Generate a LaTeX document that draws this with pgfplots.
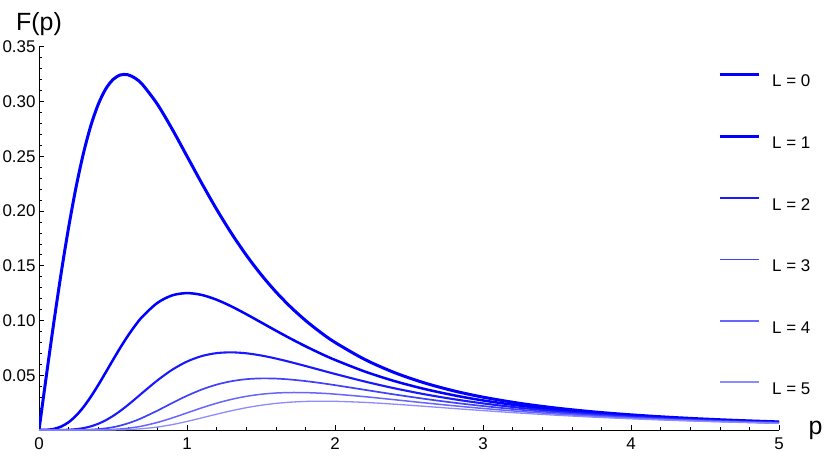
\documentclass[border=0pt]{standalone}
\usepackage{pgfplots}
\pgfplotsset{compat=1.18}
\usepackage{fontspec}
\setmainfont{Liberation Sans}
\definecolor{c0}{rgb}{0,0,1}
\definecolor{c1}{rgb}{0,0,1}
\definecolor{c2}{rgb}{0.1,0.1,1}
\definecolor{c3}{rgb}{0.25,0.25,1}
\definecolor{c4}{rgb}{0.4,0.4,1}
\definecolor{c5}{rgb}{0.55,0.55,1}
\pgfplotstableread{
p L0 L1 L2 L3 L4 L5
0 0 0 0 0 0 0
0.05 0.049751 0.000124 0.0000003 0 0 0
0.1 0.098030 0.000971 0.0000096 0.0000001 0 0
0.15 0.143472 0.003157 0.0000695 0.0000015 0 0
0.2 0.184911 0.007112 0.0002735 0.0000105 0.0000004 0
0.25 0.221453 0.013027 0.000766 0.0000451 0.0000027 0.0000002
0.3 0.252504 0.020849 0.0017215 0.0001421 0.0000117 0.000001
0.35 0.277776 0.030314 0.003308 0.000361 0.0000394 0.0000043
0.4 0.297265 0.041002 0.005655 0.000780 0.0001076 0.0000148
0.45 0.311202 0.052406 0.008825 0.001486 0.000250 0.0000421
0.5 0.32 0.064 0.0128 0.00256 0.000512 0.0001024
0.55 0.324196 0.075293 0.017487 0.004061 0.000943 0.000219
0.6 0.324394 0.085869 0.022730 0.006017 0.001593 0.000422
0.65 0.321222 0.095407 0.028337 0.008416 0.002500 0.000742
0.7 0.315301 0.103691 0.034100 0.011214 0.003688 0.001213
0.8 0.297442 0.116075 0.045298 0.017677 0.006898 0.002692
0.9 0.274717 0.122940 0.055017 0.024621 0.011018 0.004931
1.0 0.25 0.125 0.0625 0.03125 0.015625 0.0078125
1.1 0.225221 0.123311 0.067514 0.036965 0.020239 0.011081
1.2 0.201559 0.118953 0.070202 0.041431 0.024451 0.014430
1.3 0.179655 0.112869 0.070910 0.044549 0.027988 0.017584
1.4 0.159788 0.105806 0.070061 0.046392 0.030719 0.020341
1.5 0.142012 0.098316 0.068065 0.047122 0.032623 0.022585
1.6 0.126247 0.090784 0.065283 0.046945 0.033758 0.024276
1.7 0.112344 0.083464 0.062008 0.046068 0.034225 0.025427
1.8 0.100124 0.076510 0.058465 0.044676 0.034139 0.026087
1.9 0.089403 0.070010 0.054824 0.042931 0.033619 0.026326
2.0 0.08 0.064 0.0512 0.04096 0.032768 0.026214
2.2 0.064505 0.053460 0.044306 0.036719 0.030432 0.025221
2.4 0.052519 0.044750 0.038130 0.032489 0.027683 0.023588
2.6 0.043177 0.037613 0.032766 0.028543 0.024865 0.021661
2.8 0.035830 0.031777 0.028182 0.024994 0.022167 0.019659
3.0 0.03 0.027 0.0243 0.02187 0.019683 0.017715
3.25 0.024310 0.022208 0.020287 0.018533 0.016930 0.015466
3.5 0.019936 0.018431 0.017040 0.015754 0.014565 0.013466
3.75 0.016529 0.015432 0.014407 0.013451 0.012558 0.011724
4.0 0.013841 0.013027 0.012261 0.011539 0.010861 0.010222
4.25 0.011696 0.011082 0.010501 0.009950 0.009428 0.008933
4.5 0.009965 0.009496 0.009049 0.008623 0.008217 0.007831
4.75 0.008556 0.008193 0.007845 0.007512 0.007193 0.006888
5.0 0.007396 0.007112 0.006838 0.006575 0.006322 0.006079
}\datatable
\begin{document}
\begin{tikzpicture}
\useasboundingbox (-39bp,-28bp) rectangle (791bp,430bp);
\begin{axis}[
  at={(0,0)}, anchor=south west,
  scale only axis, width=740bp, height=383.3bp,
  xmin=0, xmax=5, ymin=0, ymax=0.35,
  axis lines*=left,
  axis line style={line width=0.6bp, black},
  xtick={0,1,2,3,4,5},
  minor x tick num=4,
  ytick={0.05,0.10,0.15,0.20,0.25,0.30,0.35},
  minor ytick={0.01,0.02,0.03,0.04,0.06,0.07,0.08,0.09,0.11,0.12,0.13,0.14,0.16,0.17,0.18,0.19,0.21,0.22,0.23,0.24,0.26,0.27,0.28,0.29,0.31,0.32,0.33,0.34},
  tick align=inside,
  major tick length=5bp, minor tick length=3bp,
  tick style={line width=0.6bp, black},
  yticklabel style={/pgf/number format/.cd, fixed, fixed zerofill, precision=2},
  xticklabel style={yshift=-4bp},
  /pgf/number format/assume math mode=true,
  ticklabel style={font=\fontsize{17}{19}\selectfont},
  xlabel={p}, ylabel={F(p)},
  every axis x label/.style={at={(axis cs:5,0)}, anchor=west, xshift=26bp, yshift=0bp, font=\fontsize{25}{29}\selectfont},
  every axis y label/.style={at={(axis cs:0,0.35)}, anchor=base, yshift=16bp, font=\fontsize{25}{29}\selectfont},
  legend style={at={(axis description cs:0.9176,0.9317)}, anchor=north west, draw=none, fill=none, inner sep=0pt, row sep=48.4bp, font=\fontsize{17}{19}\selectfont, nodes={inner sep=0pt, text height=12.2bp, text depth=0bp}},
  legend cell align=left,
  legend image code/.code={\draw[#1] (0bp,6.1bp) -- (39bp,6.1bp);},
]
\addplot[c0, line width=3bp, smooth] table[x=p, y=L0] {\datatable};
\addlegendentry{\hspace{12bp}L = 0}
\addplot[c1, line width=2.5bp, smooth] table[x=p, y=L1] {\datatable};
\addlegendentry{\hspace{12bp}L = 1}
\addplot[c2, line width=2.1bp, smooth] table[x=p, y=L2] {\datatable};
\addlegendentry{\hspace{12bp}L = 2}
\addplot[c3, line width=1.7bp, smooth] table[x=p, y=L3] {\datatable};
\addlegendentry{\hspace{12bp}L = 3}
\addplot[c4, line width=1.5bp, smooth] table[x=p, y=L4] {\datatable};
\addlegendentry{\hspace{12bp}L = 4}
\addplot[c5, line width=1.3bp, smooth] table[x=p, y=L5] {\datatable};
\addlegendentry{\hspace{12bp}L = 5}
\end{axis}
\end{tikzpicture}
\end{document}
